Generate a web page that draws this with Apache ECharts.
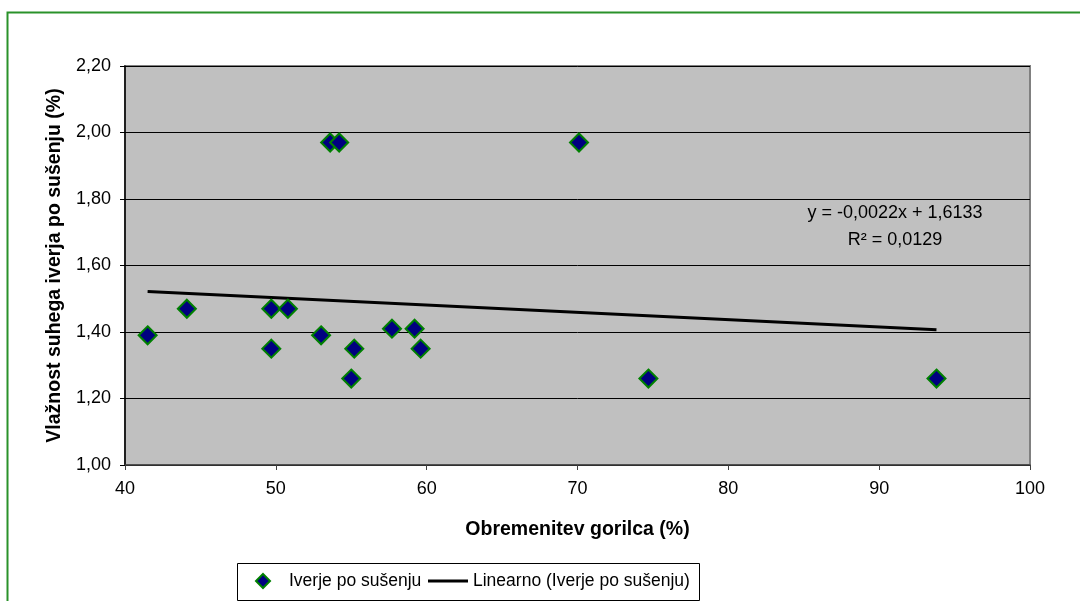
<!DOCTYPE html>
<html>
<head>
<meta charset="utf-8">
<script src="https://cdn.jsdelivr.net/npm/echarts@6/dist/echarts.min.js"></script>
<style>html,body{margin:0;padding:0;background:#fff}#c{width:1080px;height:601px}</style>
</head>
<body>
<div id="c"></div>
<script>
// Data
var loadPct = [41.5, 44.1, 49.7, 50.8, 49.7, 53.0, 55.2, 55.0, 57.7, 59.2, 59.6, 53.6, 54.2, 70.1, 74.7, 93.8];
var moisture = [1.39, 1.47, 1.47, 1.47, 1.35, 1.39, 1.35, 1.26, 1.41, 1.41, 1.35, 1.97, 1.97, 1.97, 1.26, 1.26];
var trendSlope = -0.0022;
var trendIntercept = 1.6133;
var trendR2 = '0,0129';
var seriesName = 'Iverje po sušenju';
var trendName = 'Linearno (Iverje po sušenju)';
var xTitle = 'Obremenitev gorilca (%)';
var yTitle = 'Vlažnost suhega iverja po sušenju (%)';

var pts = loadPct.map(function (x, i) { return [x, moisture[i]]; });
var xMin = Math.min.apply(null, loadPct), xMax = Math.max.apply(null, loadPct);
var trend = [[xMin, trendSlope * xMin + trendIntercept], [xMax, trendSlope * xMax + trendIntercept]];
function fmt(v, d) { return v.toFixed(d).replace('.', ','); }
var eqText = 'y = ' + fmt(trendSlope, 4) + 'x + ' + fmt(trendIntercept, 4);

var font = 'Liberation Sans, Arial, sans-serif';
var chart = echarts.init(document.getElementById('c'));
chart.setOption({
  animation: false,
  textStyle: { fontFamily: font },
  grid: { left: 125, right: 50, top: 66, bottom: 136, show: true, backgroundColor: '#C0C0C0', borderColor: '#808080', borderWidth: 2 },
  xAxis: {
    type: 'value', min: 40, max: 100, interval: 10,
    name: xTitle, nameLocation: 'middle', nameGap: 55,
    nameTextStyle: { fontFamily: font, fontSize: 19.5, fontWeight: 'bold', color: '#000' },
    axisLine: { show: true, lineStyle: { color: '#404040', width: 1.5 } },
    axisTick: { show: true, length: 5, lineStyle: { color: '#404040' } },
    axisLabel: { color: '#000', fontSize: 18, margin: 15, fontFamily: font },
    splitLine: { show: false }
  },
  yAxis: {
    type: 'value', min: 1, max: 2.2, interval: 0.2,
    name: yTitle, nameLocation: 'middle', nameGap: 53, nameRotate: 90,
    nameTextStyle: { fontFamily: font, fontSize: 19.5, fontWeight: 'bold', color: '#000' },
    axisLine: { show: true, lineStyle: { color: '#000', width: 1.5 } },
    axisTick: { show: true, length: 5, lineStyle: { color: '#000' } },
    axisLabel: { color: '#000', fontSize: 18, margin: 14, fontFamily: font, formatter: function (v) { return fmt(v, 2); } },
    splitLine: { show: true, lineStyle: { color: '#000', width: 1 } }
  },
  legend: [
    {
      left: 255, top: 571, padding: 0, itemWidth: 14, itemHeight: 14,
      textStyle: { fontSize: 17.5, lineHeight: 20, color: '#000', fontFamily: font, padding: [0, 0, 0, 14] },
      data: [{ name: seriesName, icon: 'diamond', itemStyle: { color: '#000080', borderColor: '#008000', borderWidth: 2 } }]
    },
    {
      left: 428, top: 571, padding: 0, itemWidth: 40, itemHeight: 3,
      textStyle: { fontSize: 17.5, lineHeight: 20, color: '#000', fontFamily: font },
      data: [{ name: trendName, icon: 'rect', itemStyle: { color: '#000', borderWidth: 0 } }]
    }
  ],
  series: [
    {
      name: trendName, type: 'line', data: trend, showSymbol: false, symbol: 'none',
      lineStyle: { color: '#000', width: 3 }, itemStyle: { color: '#000' }, z: 2
    },
    {
      name: seriesName, type: 'scatter', data: pts, symbol: 'diamond', symbolSize: 18,
      itemStyle: { color: '#000080', borderColor: '#008000', borderWidth: 2, opacity: 1 }, z: 3
    }
  ],
  graphic: [
    { type: 'rect', shape: { x: 7.5, y: 12.5, width: 1200, height: 800 }, style: { fill: 'none', stroke: '#2a922a', lineWidth: 2 }, silent: true, z: -10 },
    { type: 'rect', shape: { x: 237.5, y: 563.5, width: 462, height: 37 }, style: { fill: '#fff', stroke: '#000', lineWidth: 1 }, silent: true, z: -5 },
    { type: 'text', x: 895, y: 213, style: { text: eqText, fill: '#000', font: '18px ' + font, textAlign: 'center', textVerticalAlign: 'middle' }, z: 10 },
    { type: 'text', x: 895, y: 240, style: { text: 'R² = ' + trendR2, fill: '#000', font: '18px ' + font, textAlign: 'center', textVerticalAlign: 'middle' }, z: 10 }
  ]
});
</script>
</body>
</html>
